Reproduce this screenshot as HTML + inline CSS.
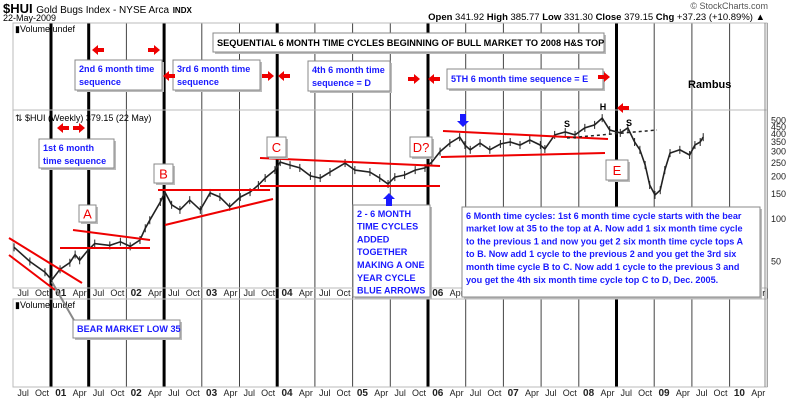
<!DOCTYPE html>
<html><head><meta charset="utf-8"><style>
body{margin:0;background:#fff;}
svg{display:block;font-family:"Liberation Sans",sans-serif;}
.bt{fill:#1a1aff;font-weight:bold;font-size:9.1px;}
.rl{fill:#e00;font-size:13px;}
</style></head><body>
<svg id="c" width="800" height="400" viewBox="0 0 800 400">
<g id="grid"></g>
<rect x="13" y="23" width="754" height="87" fill="none" stroke="#bbb"/>
<rect x="13" y="110" width="754" height="178" fill="none" stroke="#bbb"/>
<rect x="13" y="299" width="754" height="88" fill="none" stroke="#bbb"/>
<line x1="765" y1="23" x2="765" y2="387" stroke="#888"/>
<g id="price"></g>
<g id="yaxis"></g>
<g id="xaxis"></g>
<text x="3" y="13" font-size="13" font-weight="bold">$HUI <tspan font-size="10" font-weight="normal">Gold Bugs Index - NYSE Arca</tspan> <tspan font-size="8">INDX</tspan></text>
<text x="3" y="21" font-size="9">22-May-2009</text>
<text x="768" y="9" font-size="9" fill="#555" text-anchor="end">© StockCharts.com</text>
<text x="765" y="20" font-size="9.5" text-anchor="end"><tspan font-weight="bold">Open</tspan> 341.92 <tspan font-weight="bold">High</tspan> 385.77 <tspan font-weight="bold">Low</tspan> 331.30 <tspan font-weight="bold">Close</tspan> 379.15 <tspan font-weight="bold">Chg</tspan> +37.23 (+10.89%) ▲</text>
<text x="15" y="32" font-size="9">▮Volume undef</text>
<text x="15" y="121" font-size="9">⇅ $HUI (Weekly) 379.15 (22 May)</text>
<text x="15" y="308" font-size="9">▮Volume undef</text>
<g id="ann"></g>
</svg>
<script>
const dates=[2000.38,2000.59,2000.79,2000.88,2000.99,2001.12,2001.19,2001.25,2001.36,2001.45,2001.65,2001.79,2001.92,2002.05,2002.12,2002.18,2002.32,2002.38,2002.47,2002.58,2002.71,2002.85,2002.98,2003.11,2003.24,2003.38,2003.51,2003.62,2003.71,2003.84,2003.91,2004.04,2004.17,2004.31,2004.44,2004.57,2004.77,2004.9,2005.1,2005.23,2005.34,2005.43,2005.56,2005.7,2005.83,2005.92,2006.03,2006.16,2006.29,2006.36,2006.43,2006.56,2006.69,2006.83,2006.96,2007.09,2007.22,2007.36,2007.42,2007.55,2007.69,2007.82,2007.95,2008.08,2008.18,2008.28,2008.42,2008.52,2008.61,2008.68,2008.75,2008.81,2008.88,2008.95,2009.01,2009.08,2009.21,2009.34,2009.41,2009.48,2009.52];
const closes=[63,50,42,37,44,49,56,51,60,67,65,69,64,71,86,98,132,155,126,116,136,116,153,143,122,143,155,174,195,222,253,241,230,202,195,215,249,222,215,195,177,198,205,222,230,253,300,345,380,334,309,345,309,340,351,334,363,334,313,394,413,394,442,464,518,427,407,442,351,309,241,174,148,160,222,293,309,284,334,351,380];
const yTicks=[500,450,400,350,300,250,200,150,100,50];
const quarterLabels=["Jul","Oct","01","Apr","Jul","Oct","02","Apr","Jul","Oct","03","Apr","Jul","Oct","04","Apr","Jul","Oct","05","Apr","Jul","Oct","06","Apr","Jul","Oct","07","Apr","Jul","Oct","08","Apr","Jul","Oct","09","Apr","Jul","Oct","10","Apr"];
const cycleLines=[2000.87,2001.37,2001.87,2002.37,2002.87,2003.37,2003.87,2004.37,2004.87,2005.37,2005.87,2006.37,2006.87,2007.37,2007.87,2008.37,2008.87,2009.37,2009.87,2010.37];
const thickCycles=[0,1,3,6,10,15];
const NS="http://www.w3.org/2000/svg";
const X=t=>51+75.4*(t-2000.87);
const Y=p=>219-42.5*Math.log2(p/100);
function mk(tag,attrs,parent,txt){const e=document.createElementNS(NS,tag);for(const k in attrs)e.setAttribute(k,attrs[k]);if(txt!=null)e.textContent=txt;parent.appendChild(e);return e;}
const grid=document.getElementById('grid');
cycleLines.forEach((t,i)=>{const th=thickCycles.includes(i);
 const l=mk('line',{x1:X(t),x2:X(t),y1:23,y2:387,stroke:th?'#000':'#444','stroke-width':th?3:1},grid);
 
 });
const ya=document.getElementById('yaxis');
yTicks.forEach(v=>{const t=mk('text',{x:771,y:Y(v)+3,'font-size':9,fill:'#222'},ya,String(v));
 
 });
const xa=document.getElementById('xaxis');
quarterLabels.forEach((s,i)=>{const t=2000.5+i*0.25;const bold=/^\d/.test(s);
 [296,396].forEach(yy=>{const e=mk('text',{x:X(t),y:yy,'text-anchor':'middle','font-size':bold?10:9,'font-weight':bold?'bold':'normal',fill:'#222'},xa,s);
 
 });});
const pg=document.getElementById('price');
let d='';
dates.forEach((t,i)=>{d+=(i?'L':'M')+X(t).toFixed(1)+','+Y(closes[i]).toFixed(1);});
const pl=mk('path',{d:d,fill:'none',stroke:'#222','stroke-width':1.6},pg);


dates.forEach((t,i)=>{const x=X(t),y=Y(closes[i]);
 const b=mk('line',{x1:x,x2:x,y1:y-4,y2:y+4,stroke:'#222','stroke-width':1},pg);
 
 });
const ann=document.getElementById('ann');
function red(x1,y1,x2,y2,dash){const l=mk('line',{x1,y1,x2,y2,stroke:dash?'#222':'#e00','stroke-width':dash?1.5:2,'stroke-dasharray':dash?'3,3':'none'},ann);
 
 }
[[9,238,82,283],[9,255,55,290],[73,230,150,240],[60,248,150,248],[158,190,270,190],[165,225,273,199],[260,158,440,166],[260,186,440,186],[443,131,608,139],[441,157,605,153]].forEach(a=>red(...a));
red(567,138,657,130,true);
function box(x,y,w,h,lines,cls,name,lh){const g=mk('g',{},ann);
 
 
 mk('rect',{x:x+2,y:y+2,width:w,height:h,fill:'#bbb'},g);
 mk('rect',{x,y,width:w,height:h,fill:'#fff',stroke:'#888'},g);
 lines.forEach((s,i)=>mk('text',{x:x+4,y:y+(lh||12.6)*(i+1)-1,class:cls},g,s));}
box(213,33,391,19,["SEQUENTIAL 6 MONTH TIME CYCLES BEGINNING OF BULL MARKET TO 2008 H&S TOP"],'','title-box',14);
ann.lastChild.lastChild.setAttribute('style','font-weight:bold;font-size:9.2px');
box(75,60,87,30,["2nd 6 month time","sequence"],'bt','box-2nd-cycle',13);
box(173,60,87,30,["3rd 6 month time","sequence"],'bt','box-3rd-cycle',13);
box(308,61,82,30,["4th 6 month time","sequence = D"],'bt','box-4th-cycle',13);
box(447,69,156,20,["5TH 6 month time sequence = E"],'bt','box-5th-cycle',14);
box(39,139,75,29,["1st  6 month","time sequence"],'bt','box-1st-cycle',13);
box(353,205,77,92,["2 - 6 MONTH","TIME CYCLES","ADDED","TOGETHER","MAKING A ONE","YEAR CYCLE","BLUE ARROWS"],'bt','box-year-cycle',12.8);
box(462,207,298,90,["6 Month time cycles:  1st 6 month time cycle starts with the bear","market low at 35 to the top at  A.  Now add 1 six month time cycle","to the previous 1 and now you get 2 six month time cycle tops  A","to B.  Now add 1 cycle to the previous 2 and you get the 3rd six","month time cycle B to C.  Now add 1 cycle to the previous 3 and","you get the 4th six month time cycle top C to D,  Dec.  2005."],'bt','explanation-box',12.8);
mk('line',{x1:52,y1:282,x2:75,y2:322,stroke:'#888','stroke-width':2},ann);
box(73,320,107,18,["BEAR MARKET LOW  35"],'bt','bear-low-box',13);
[[79,205,17,17,"A"],[154,164,19,19,"B"],[267,137,19,20,"C"],[410,137,22,20,"D?"],[606,160,22,20,"E"]].forEach(a=>{box(a[0],a[1],a[2],a[3],[],'', 'label-'+a[4]);
 const t=mk('text',{x:a[0]+a[2]/2,y:a[1]+a[3]/2+5,'text-anchor':'middle',class:'rl'},ann,a[4]);
 
 });
function arrow(x,y,dir,color,name){const g=mk('g',{},ann);
 
 
 let p;
 if(dir=='L')p=`${x},${y} ${x+6},${y-5} ${x+6},${y-2} ${x+12},${y-2} ${x+12},${y+2} ${x+6},${y+2} ${x+6},${y+5}`;
 if(dir=='R')p=`${x+12},${y} ${x+6},${y-5} ${x+6},${y-2} ${x},${y-2} ${x},${y+2} ${x+6},${y+2} ${x+6},${y+5}`;
 if(dir=='D')p=`${x},${y+13} ${x-6},${y+7} ${x-3},${y+7} ${x-3},${y} ${x+3},${y} ${x+3},${y+7} ${x+6},${y+7}`;
 if(dir=='U')p=`${x},${y} ${x-6},${y+6} ${x-3},${y+6} ${x-3},${y+13} ${x+3},${y+13} ${x+3},${y+6} ${x+6},${y+6}`;
 mk('polygon',{points:p,fill:color},g);}
[[92,50,'L'],[148,50,'R'],[163,76,'L'],[262,76,'R'],[278,76,'L'],[408,79,'R'],[428,79,'L'],[598,77,'R'],[617,108,'L'],[57,128,'L'],[73,128,'R']].forEach(a=>arrow(a[0],a[1],a[2],'#e00','red-arrow'));
arrow(463,114,'D','#1a1aff','blue-arrow');
arrow(389,193,'U','#1a1aff','blue-arrow');
[[567,127,"S"],[603,110,"H"],[629,126,"S"],[688,88,"Rambus"]].forEach(a=>{const t=mk('text',{x:a[0],y:a[1],'text-anchor':a[2]=="Rambus"?'start':'middle','font-size':a[2]=="Rambus"?11:9,'font-weight':'bold'},ann,a[2]);
 
 });
</script>
</body></html>
